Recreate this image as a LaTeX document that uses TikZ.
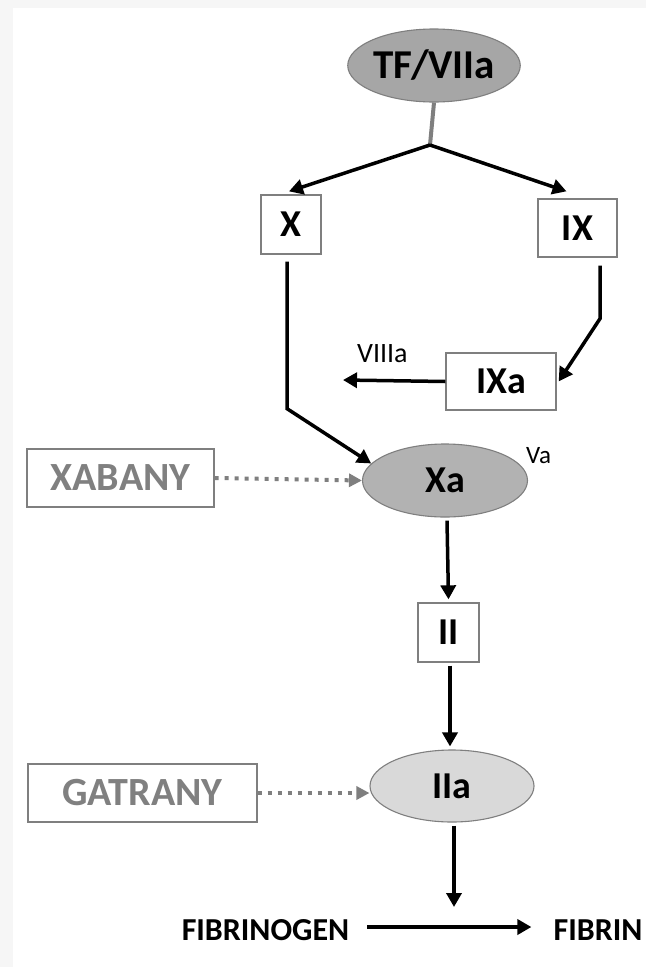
\documentclass[tikz,border=0pt]{standalone}
\usepackage{fontspec}
\setmainfont{Carlito}
\usetikzlibrary{arrows.meta,shapes.geometric}

\definecolor{edgegray}{HTML}{7F7F7F}
\definecolor{textgray}{HTML}{808080}
\definecolor{pagegray}{HTML}{F6F6F6}
\definecolor{darkfill}{HTML}{A6A6A6}
\definecolor{midfill}{HTML}{B2B2B2}
\definecolor{lightfill}{HTML}{D9D9D9}

\begin{document}
\begin{tikzpicture}[x=1pt,y=-1pt,
  factorbox/.style={draw=edgegray, line width=1.3pt, fill=white, inner sep=0pt,
    font=\bfseries\fontsize{38}{44}\selectfont},
  drugbox/.style={draw=edgegray, line width=1.3pt, fill=white, inner sep=0pt,
    text=textgray, font=\bfseries\fontsize{40}{46}\selectfont},
  enzyme/.style={ellipse, draw=edgegray, line width=1.1pt, inner sep=0pt,
    font=\bfseries\fontsize{38}{44}\selectfont},
  endtext/.style={inner sep=0pt, anchor=base, font=\bfseries\fontsize{32}{38}\selectfont},
  smalltext/.style={inner sep=0pt, anchor=base west},
  arr/.style={line width=3.5pt, -{Triangle[length=14pt,width=15pt]}},
  inhib/.style={draw=edgegray, line width=4pt, dash pattern=on 4pt off 6pt,
    -{Triangle[length=13pt,width=13pt,fill=edgegray]}},
  stem/.style={draw=edgegray, line width=4pt}
]
% page and white sheet
\fill[pagegray] (0,0) rectangle (646,967);
\fill[white] (13,8) rectangle (646,967);
\useasboundingbox (0,0) rectangle (646,967);

% enzymes
\node[enzyme, fill=darkfill, minimum width=162pt, minimum height=73pt,
  font=\bfseries\fontsize{41}{46}\selectfont] (tf) at (434,65.5) {TF/VIIa};
\node[enzyme, fill=midfill, minimum width=165pt, minimum height=73pt] (xa) at (445,480.5) {Xa};
\node[enzyme, fill=lightfill, minimum width=164pt, minimum height=72pt] (iia) at (452,786) {IIa};

% factors
\node[factorbox, minimum width=60pt, minimum height=59pt] (x) at (291,224.5) {X};
\node[factorbox, minimum width=79pt, minimum height=58pt] (ix) at (577.5,228) {IX};
\node[factorbox, minimum width=110pt, minimum height=57pt] (ixa) at (501,381.5) {IXa};
\node[factorbox, minimum width=61pt, minimum height=59pt] (ii) at (448.5,632.5) {II};

% inhibitors
\node[drugbox, minimum width=187pt, minimum height=58pt] (xab) at (120.5,478) {XABANY};
\node[drugbox, minimum width=229pt, minimum height=58pt] (gat) at (142.5,793) {GATRANY};

% cofactor labels
\node[smalltext, font=\fontsize{28}{32}\selectfont] (viii) at (357,362) {VIIIa};
\node[smalltext, font=\fontsize{25}{30}\selectfont] (va) at (526,463) {Va};

% end products
\node[endtext] (fgen) at (265.5,940) {FIBRINOGEN};
\node[endtext] (fin) at (598,940) {FIBRIN};

% branch points
\coordinate (fork) at (430,145);
\coordinate (viiitip) at (343,380);
\coordinate (conv) at (454,907);

% extrinsic start
\draw[stem] (tf.south) -- (fork);
\draw[arr] (fork) -- ([xshift=-2pt,yshift=3pt]x.north);
\draw[arr] (fork) -- ([xshift=-11pt,yshift=7pt]ix.north);

% X to Xa
\draw[arr, line join=miter] ([xshift=-4pt,yshift=-7pt]x.south) -- ++(0,147) -- (xa.167);

% IX to IXa and VIIIa
\draw[arr, line join=miter] ([xshift=22.5pt,yshift=-8pt]ix.south) -- ++(0,53) -- ([xshift=2pt]ixa.east);
\draw[arr] (ixa.west) -- (viiitip);

% inhibitors
\draw[inhib] (xab.east) -- (xa.west);
\draw[inhib] (gat.east) -- (gat.east -| iia.west);

% common pathway
\draw[arr] ([xshift=2pt,yshift=-3pt]xa.south) -- ([yshift=3pt]ii.north);
\draw[arr] ([xshift=1.5pt,yshift=-3pt]ii.south) -- ([xshift=1.5pt,yshift=3pt]ii.south |- iia.north);
\draw[arr] ([xshift=2pt,yshift=-3pt]iia.south) -- (conv);
\draw[arr] ([xshift=18pt,yshift=13pt]fgen.base east) -- ([xshift=-22pt,yshift=13pt]fin.base west);
\end{tikzpicture}
\end{document}
